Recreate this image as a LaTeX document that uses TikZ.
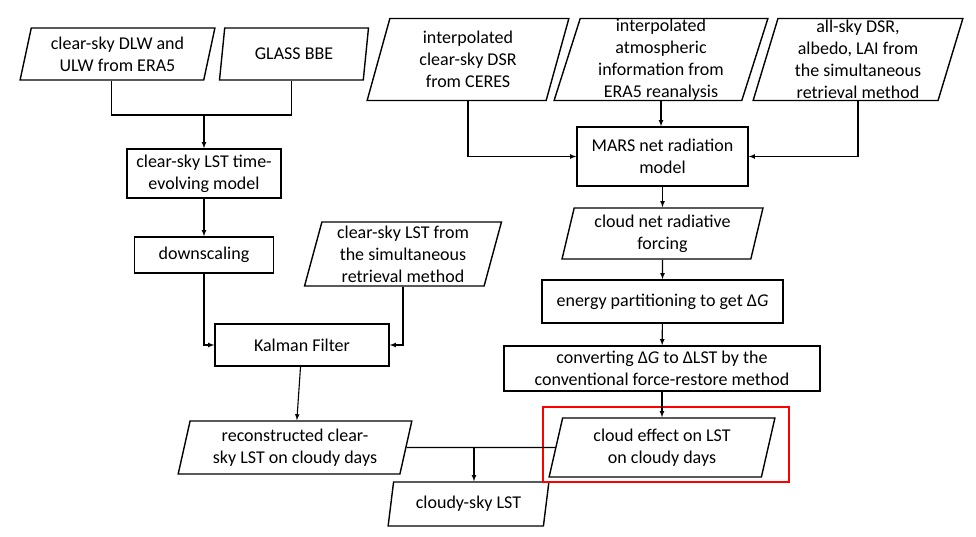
\documentclass[tikz,border=0pt]{standalone}
\usepackage{fontspec}
\setmainfont{Carlito}
\usepackage{tikz}
\usetikzlibrary{shapes.geometric}
\usetikzlibrary{arrows}

\begin{document}
\begin{tikzpicture}[x=1pt,y=-1pt,>=latex,
    font=\fontsize{18}{22}\selectfont,
    box/.style={draw,line width=1.4pt,align=center,inner sep=0pt},
    io/.style={box,trapezium,trapezium left angle=76,trapezium right angle=104,trapezium stretches=true},
    link/.style={line width=1.1pt}]
    \useasboundingbox (0,0) rectangle (976,537);
    \node[io,minimum width=195,minimum height=52] (era) at (117.5,54) {clear-sky DLW and\\ULW from ERA5};
    \node[io,minimum width=150,minimum height=52] (bbe) at (294,54) {GLASS BBE};
    \node[io,minimum width=202,minimum height=82] (ceres) at (468,59.5) {interpolated\\clear-sky DSR\\from CERES};
    \node[io,minimum width=214,minimum height=82] (atmos) at (661,59.5) {interpolated\\atmospheric\\information from\\ERA5 reanalysis};
    \node[io,minimum width=210,minimum height=82] (allsky) at (858,59.5) {all-sky DSR,\\albedo, LAI from\\the simultaneous\\retrieval method};
    \node[box,minimum width=154,minimum height=49] (evolve) at (204,173.5) {clear-sky LST time-\\evolving model};
    \node[box,minimum width=139,minimum height=36] (down) at (204,255) {downscaling};
    \node[io,minimum width=197,minimum height=64] (simlst) at (403,254) {clear-sky LST from\\the simultaneous\\retrieval method};
    \node[box,minimum width=174,minimum height=42] (kalman) at (302,345) {Kalman Filter};
    \node[io,minimum width=234,minimum height=53] (recon) at (295,447.5) {reconstructed clear-\\sky LST on cloudy days};
    \node[io,minimum width=161,minimum height=44] (cloudy) at (468.5,504) {cloudy-sky LST};
    \node[box,minimum width=171,minimum height=59] (mars) at (662.5,156.5) {MARS net radiation\\model};
    \node[io,minimum width=201,minimum height=51] (forcing) at (662.5,233.5) {cloud net radiative\\forcing};
    \node[box,minimum width=241,minimum height=43] (energy) at (662.5,301.5) {energy partitioning to get Δ\textit{G}};
    \node[box,minimum width=316,minimum height=45] (convert) at (662,368.5) {converting Δ\textit{G} to ΔLST by the\\conventional force-restore method};
    \node[io,minimum width=226,minimum height=59] (effect) at (662,447.5) {cloud effect on LST\\on cloudy days};
    \draw[red,line width=2pt] (543,407) rectangle (789,482);
    \coordinate (j1) at (204,115);
    \coordinate (j2) at (474,448);
    \draw[link] (era.bottom side) |- (j1) -| (bbe.bottom side);
    \draw[link,->] (j1) -- (evolve);
    \draw[link,->] (evolve) -- (down);
    \draw[link,->] (down.south) |- (kalman.west);
    \draw[link,->] (simlst.south) |- (kalman.east);
    \draw[link,->] (kalman) -- (recon);
    \draw[link] (recon.east) -- (effect.west);
    \draw[link,->] (j2) -- (j2 |- cloudy.north);
    \draw[link,->] (ceres.south) |- (mars.west);
    \draw[link,->] (allsky.south) |- (mars.east);
    \draw[link,->] (atmos.south) -- (atmos.south |- mars.north);
    \draw[link,->] (mars) -- (forcing);
    \draw[link,->] (forcing) -- (energy);
    \draw[link,->] (energy) -- (convert);
    \draw[link,->] (convert) -- (effect);
\end{tikzpicture}
\end{document}
